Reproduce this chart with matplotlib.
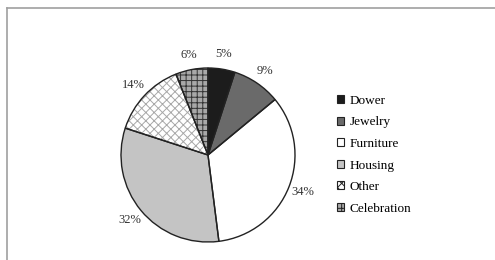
import matplotlib.pyplot as plt
from matplotlib.patches import Patch
from matplotlib.lines import Line2D

labels = ['Dower', 'Jewelry', 'Furniture', 'Housing', 'Other', 'Celebration']
shares = [5, 9, 34, 32, 14, 6]
colors = ['#1c1c1c', '#6a6a6a', '#ffffff', '#c4c4c4', '#ffffff', '#a8a8a8']
hatches = [None, None, None, None, 'xxxx', '+++']
hatch_colors = ['#1c1c1c', '#6a6a6a', '#ffffff', '#c4c4c4', '#a8a8a8', '#333333']

plt.rcParams['font.family'] = ['Liberation Serif', 'DejaVu Serif']
plt.rcParams['hatch.linewidth'] = 0.7

fig = plt.figure(figsize=(4.95, 2.6), dpi=100)
ax = fig.add_axes([121 / 495, 18 / 260, 174 / 495, 174 / 260])

# fill + hatch first, then outlines on top
wedges, texts = ax.pie(shares, startangle=90, counterclock=False,
                       colors=colors, labels=[f'{s}%' for s in shares],
                       labeldistance=1.17,
                       wedgeprops=dict(linewidth=0),
                       textprops=dict(fontsize=9, color='#333333'))
for w, h, hc in zip(wedges, hatches, hatch_colors):
    if h:
        w.set_hatch(h)
        w.set_edgecolor(hc)
for t in texts:
    t.set_ha('center')
    t.set_va('center')

ax.pie(shares, startangle=90, counterclock=False,
       colors=['none'] * len(shares),
       wedgeprops=dict(linewidth=1.0, edgecolor='#222222', fill=False))
ax.set_xlim(-1, 1)
ax.set_ylim(-1, 1)

handles = [Patch(facecolor=c, edgecolor='#222222', hatch=h, linewidth=0.8)
           for c, h in zip(colors, hatches)]
fig.legend(handles, labels, loc='upper left', bbox_to_anchor=(337 / 495, 1 - 95 / 260),
           frameon=False, fontsize=9.5, handlelength=0.55, handleheight=0.55,
           handletextpad=0.4, labelspacing=0.72, borderaxespad=0, borderpad=0)

# thin grey border on top and left
fig.add_artist(Line2D([7 / 495, 1], [1 - 8 / 260, 1 - 8 / 260], color='#a0a0a0', linewidth=1.2))
fig.add_artist(Line2D([7 / 495, 7 / 495], [0, 1 - 8 / 260], color='#a0a0a0', linewidth=1.2))

fig.savefig('out.png', dpi=100)
